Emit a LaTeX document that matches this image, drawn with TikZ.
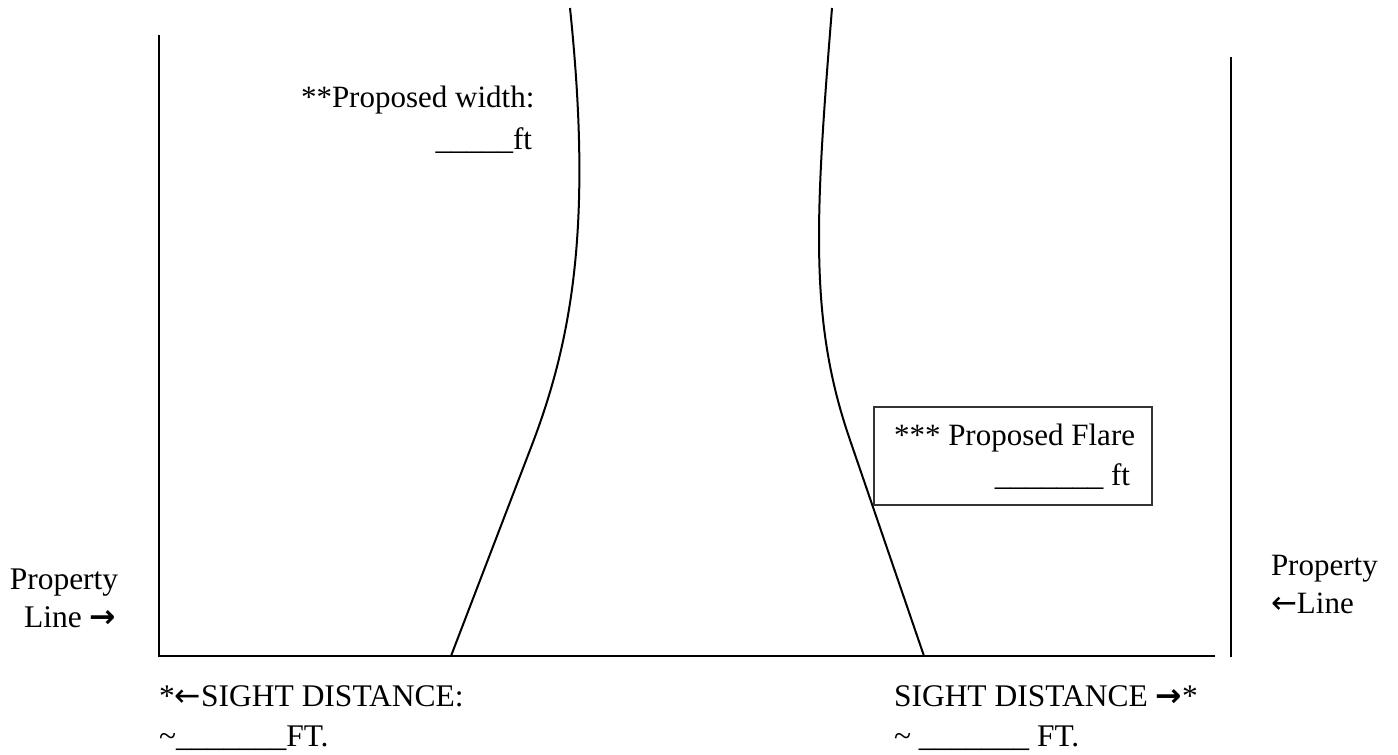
\documentclass[tikz,border=0pt]{standalone}
\usepackage{fontspec}
\setmainfont{Liberation Serif}
\newfontfamily\arrowfont{DejaVu Sans}
\begin{document}
\begin{tikzpicture}[x=1pt,y=-1pt,line width=2pt,
  tnr/.style={font=\fontsize{31.5}{40}\selectfont, inner sep=0pt},
  cam/.style={font=\fontsize{31}{40}\selectfont, inner sep=0pt},
  curve/.style={line width=2pt},
  flarebox/.style={draw=black!80, line width=1.5pt, inner sep=0pt, minimum width=278pt, minimum height=98pt}]
\useasboundingbox (0,0) rectangle (1398,755);
% frame lines
\coordinate (LT) at (159,35);
\coordinate (LB) at (159,656);
\coordinate (RB) at (1215,656);
\coordinate (PT) at (1231,57);
\coordinate (PB) at (1231,657);
\draw (LT) -- (LB) -- (RB);
\draw (PT) -- (PB);
% road edges
\coordinate (A0) at (570,8);
\coordinate (A1) at (530,450);
\coordinate (A2) at (451,656);
\coordinate (B0) at (832,8);
\coordinate (B1) at (850,440);
\coordinate (B2) at (924,656);
\draw[curve] (A0) .. controls (592,220) and (574,337) .. (A1) -- (A2);
\draw[curve] (B0) .. controls (815,220) and (809,321) .. (B1) -- (B2);
% proposed width
\node[cam, anchor=base west] (pw1) at (300,107) {**Proposed width:};
\node[cam, anchor=base east] (pw2) at (533,149) {\_\_\_\_\_ft};
% flare box
\node[flarebox, anchor=north west] (flare) at (873,406) {};
\node[cam, anchor=base west] (fl1) at (893,445) {*** Proposed Flare};
\node[cam, anchor=base east] (fl2) at (1131,485) {\_\_\_\_\_\_\_ ft};
% property lines
\node[tnr, anchor=base] (pl1) at (64,589) {Property};
\node[tnr, anchor=base] (pl2) at (70,627) {Line {\arrowfont\bfseries →}};
\node[cam, anchor=base west] (pr1) at (1270,575) {Property};
\node[cam, anchor=base west] (pr2) at (1270,613) {{\arrowfont ←}Line};
% sight distances
\node[tnr, anchor=base west] (sl1) at (158,706) {*{\arrowfont ←}SIGHT DISTANCE:};
\node[tnr, anchor=base west] (sl2) at (158,746) {\textasciitilde\_\_\_\_\_\_\_FT.};
\node[tnr, anchor=base west] (sr1) at (893,706) {SIGHT DISTANCE {\arrowfont\bfseries →}*};
\node[tnr, anchor=base west] (sr2) at (893,746) {\textasciitilde{} \_\_\_\_\_\_\_ FT.};
\end{tikzpicture}
\end{document}
